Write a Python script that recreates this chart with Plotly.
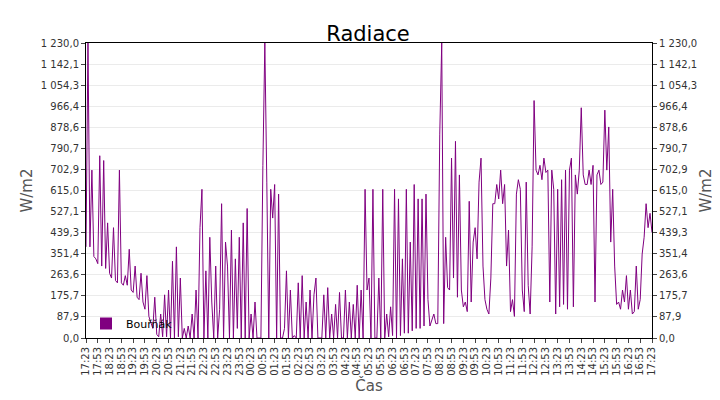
import pandas as pd
import plotly.graph_objects as go

# radiation every 5 minutes, from 17:23 to 17:23 next day
radiation = (
    [380, 1230, 380, 700, 340, 330, 310, 760, 300, 740, 290, 480] +
    [270, 250, 460, 240, 230, 700, 230, 220, 260, 220, 370, 200] +
    [190, 300, 170, 160, 270, 150, 120, 260, 90, 60, 40, 170] +
    [15, 5, 100, 5, 180, 5, 200, 0, 320, 0, 380, 5] +
    [250, 0, 40, 0, 50, 0, 100, 0, 200, 0, 460, 620] +
    [0, 280, 0, 420, 150, 0, 300, 0, 120, 560, 0, 400] +
    [300, 0, 450, 0, 330, 40, 420, 0, 480, 0, 540, 0] +
    [100, 0, 150, 0, 0, 0] +
    [720, 1230, 650, 0, 620, 500, 640, 0, 600, 0, 0, 40] +
    [280, 0, 200, 0, 10, 0] +
    [230, 0, 260, 0, 150, 0, 200, 0, 180, 250, 0, 0] +
    [0, 180, 0, 210, 0, 100, 0, 140, 0, 190, 0, 0] +
    [200, 0, 150, 0, 140, 0, 220, 0, 200, 0, 620, 200] +
    [250, 0, 620, 0, 0, 250, 0, 620, 0, 100, 5, 130] +
    [10, 620, 0, 580, 10, 330, 20, 620, 20, 400, 30, 640] +
    [40, 580, 40, 580, 50, 600, 160, 50, 80, 100, 60, 60] +
    [850, 1230, 60, 420, 210, 200, 750, 250, 820, 170, 680, 200] +
    [130, 150, 110, 570, 150, 400, 460, 330, 650, 750, 300, 160] +
    [120, 100, 250, 560, 560, 640, 580, 700, 560, 640, 300, 450] +
    [110, 160, 90, 600, 660, 620, 200, 110, 650, 220, 100, 380] +
    [990, 700, 680, 720, 660, 750, 690, 700, 150, 700, 620, 100] +
    [620, 130, 660, 140, 700, 120, 700, 750, 130, 680, 600, 700] +
    [960, 680, 640, 640, 700, 640, 720, 150, 680, 700, 640, 650] +
    [950, 700, 880, 400, 620, 300, 140, 150, 120, 200, 150, 260] +
    [120, 200, 100, 110, 300, 120, 160, 350, 420, 560, 460, 520] +
    [440]
)
start = pd.Timestamp("2024-06-01 17:23")
times = pd.date_range(start, periods=len(radiation), freq="5min")
tick_times = pd.date_range(start, start + pd.Timedelta(hours=24), freq="30min")
tick_labels = [t.strftime("%H:%M") for t in tick_times]
y_ticks = [i * 1230 / 14 for i in range(15)]
y_labels = [f"{v:,.1f}".replace(",", " ").replace(".", ",") for v in y_ticks]

purple = "#800080"
fig = go.Figure()
fig.add_trace(go.Scatter(x=times, y=radiation, mode="lines", showlegend=False,
                         line=dict(color=purple, width=1)))
# legend entry drawn as a square
fig.add_trace(go.Scatter(x=[None], y=[None], mode="markers", name="Bouřňák",
                         marker=dict(symbol="square", size=12, color=purple)))
fig.add_trace(go.Scatter(x=[None], y=[None], yaxis="y2", showlegend=False))

axis_font = dict(family="DejaVu Sans", size=10, color="#333")
fig.update_layout(
    width=720, height=400,
    margin=dict(l=78, r=76, t=35, b=70),
    paper_bgcolor="white", plot_bgcolor="white",
    title=dict(text="Radiace", x=0.5, y=0.955, xanchor="center",
               font=dict(family="DejaVu Sans", size=21, color="black")),
    font=dict(family="DejaVu Sans", size=11, color="#333"),
    showlegend=True,
    legend=dict(x=0.0, y=0.0, xanchor="left", yanchor="bottom",
                bgcolor="rgba(255,255,255,0)", font=dict(size=11, color="black")),
    xaxis=dict(range=[tick_times[0], tick_times[-1]], tickvals=tick_times,
               ticktext=tick_labels, tickangle=-90, ticks="outside", ticklen=4,
               showgrid=False, showline=True, linecolor="black", mirror=True,
               automargin=False, tickfont=axis_font,
               title=dict(text="Čas", font=dict(size=15, color="#555"), standoff=2)),
    yaxis=dict(range=[0, 1230], tickvals=y_ticks, ticktext=y_labels, ticks="outside",
               ticklen=4, gridcolor="#ebebeb", showline=True, linecolor="black",
               zeroline=False, automargin=False, tickfont=axis_font,
               title=dict(text="W/m2", font=dict(size=15, color="#555"), standoff=4)),
    yaxis2=dict(range=[0, 1230], tickvals=y_ticks, ticktext=y_labels, ticks="outside",
                ticklen=4, overlaying="y", side="right", showgrid=False,
                showline=True, linecolor="black", zeroline=False, automargin=False,
                tickfont=axis_font,
                title=dict(text="W/m2", font=dict(size=15, color="#555"), standoff=4)),
)
fig.write_html("out.html")
